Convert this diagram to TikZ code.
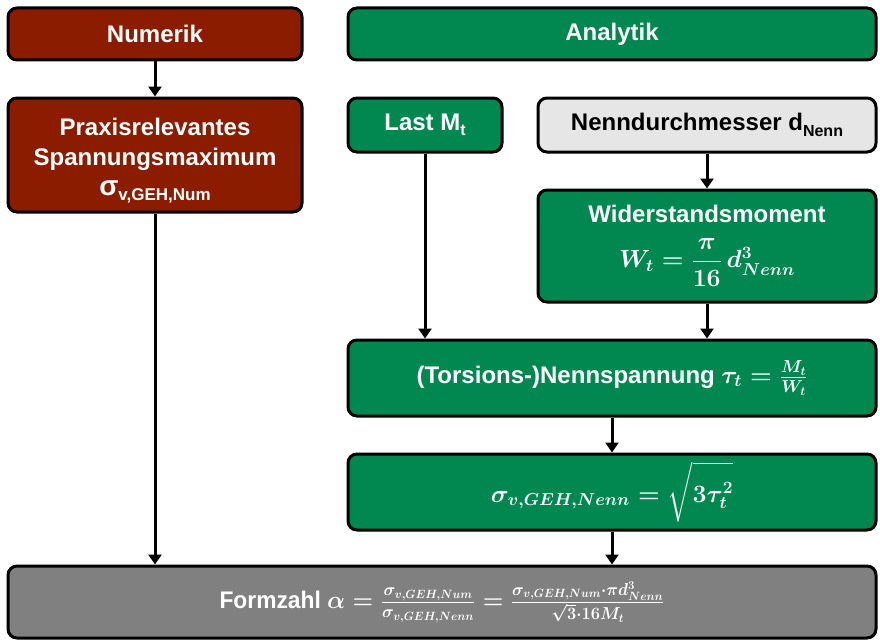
\documentclass[tikz,border=0pt]{standalone}
\usepackage{amsmath,bm}
\usepackage{fontspec}
\setmainfont{Liberation Sans}
\usetikzlibrary{arrows.meta}
\definecolor{numred}{RGB}{139,28,0}
\definecolor{anagreen}{RGB}{0,136,80}
\definecolor{lightbox}{RGB}{230,230,230}
\definecolor{formgray}{RGB}{128,128,128}
\tikzset{
  box/.style={draw=black, line width=3pt, rounded corners=9pt, inner sep=0pt, align=center,
    font=\fontsize{24}{30}\selectfont\bfseries\boldmath, text=white},
  redbox/.style={box, fill=numred},
  greenbox/.style={box, fill=anagreen},
  lightgraybox/.style={box, fill=lightbox, text=black},
  graybox/.style={box, fill=formgray},
  conn/.style={line width=3pt, -{Triangle[length=10pt,width=13pt]}}
}
\begin{document}
\begin{tikzpicture}[x=1pt,y=-1pt]
\useasboundingbox (0,0) rectangle (880,642);
\node[redbox, minimum width=294pt, minimum height=52pt] (num) at (155,34) {Numerik};
\node[greenbox, minimum width=528pt, minimum height=52pt] (ana) at (612,34) {Analytik};
\node[redbox, minimum width=294pt, minimum height=114pt] (prax) at (155,155)
  {\rule{0pt}{29pt}Praxisrelevantes\\Spannungsmaximum\\{\fontsize{28}{28}\selectfont σ}\raisebox{-5pt}{\fontsize{17}{17}\selectfont v,GEH,Num}};
\node[greenbox, minimum width=154pt, minimum height=54pt] (last) at (425,125) {Last M\raisebox{-5pt}{\fontsize{16}{16}\selectfont t}};
\node[lightgraybox, minimum width=338pt, minimum height=54pt] (nenn) at (707,125) {Nenndurchmesser d\raisebox{-6pt}{\fontsize{16}{16}\selectfont Nenn}};
\node[greenbox, minimum width=338pt, minimum height=112pt] (wid) at (707,246)
  {Widerstandsmoment\\[15pt]$W_t=\dfrac{\pi}{16}\,d^3_{Nenn}$};
\node[greenbox, minimum width=528pt, minimum height=76pt] (tors) at (612,378)
  {(Torsions-)Nennspannung $\tau_t=\frac{M_t}{W_t}$};
\node[greenbox, minimum width=528pt, minimum height=76pt] (sig) at (612,492)
  {$\sigma_{v,GEH,Nenn}=\sqrt{\vphantom{\dfrac{A}{A}}3\tau_t^2}$};
\node[graybox, minimum width=868pt, minimum height=72pt] (form) at (442,602)
  {\scalebox{0.95}[1]{Formzahl $\alpha=\frac{\sigma_{v,GEH,Num}}{\sigma_{v,GEH,Nenn}}=\frac{\sigma_{v,GEH,Num}\cdot\pi d^3_{Nenn}}{\sqrt{3}\cdot16M_t}$}};
\draw[conn] (num) -- (prax);
\draw[conn] (prax.south) -- (prax.south |- form.north);
\draw[conn] (last.south) -- (last.south |- tors.north);
\draw[conn] (nenn) -- (wid);
\draw[conn] (wid.south) -- (wid.south |- tors.north);
\draw[conn] (tors) -- (sig);
\draw[conn] (sig.south) -- (sig.south |- form.north);
\end{tikzpicture}
\end{document}
